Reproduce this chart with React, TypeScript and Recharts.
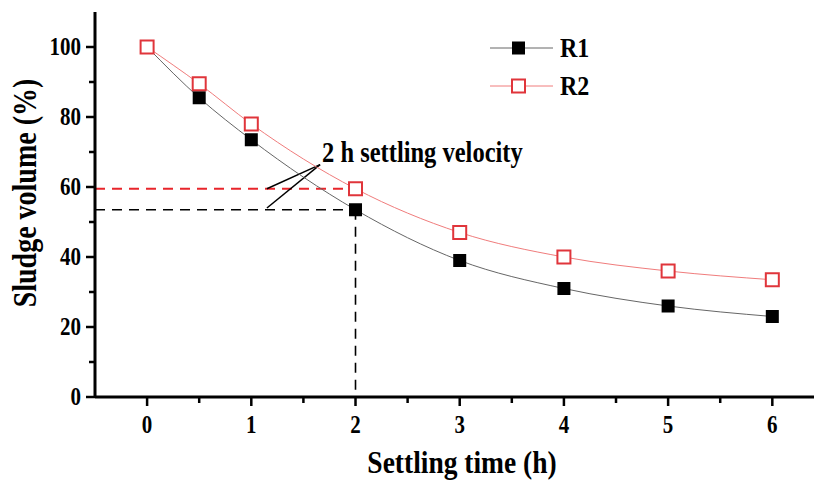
import React from 'react';
import { LineChart, Line, XAxis, YAxis, ReferenceLine, ReferenceDot } from 'recharts';

const times = [0, 0.5, 1, 2, 3, 4, 5, 6];
const r1Values = [100, 85.5, 73.5, 53.5, 39, 31, 26, 23];
const r2Values = [100, 89.5, 78, 59.5, 47, 40, 36, 33.5];
const xTicks = [0, 0.5, 1, 1.5, 2, 2.5, 3, 3.5, 4, 4.5, 5, 5.5, 6];
const yTicks = [0, 10, 20, 30, 40, 50, 60, 70, 80, 90, 100];
const seriesNames = ['R1', 'R2'];

const data = times.map((t, i) => ({ t, R1: r1Values[i], R2: r2Values[i] }));

const FONT = '"Liberation Serif", "Times New Roman", serif';
const R2_MARK = '#e0353b';
const R2_LINE = '#f07c7c';
const R1_LINE = '#666666';
const STRETCH = 1.18;

const SquareDot = (props: any) => {
  const { cx, cy, fill, stroke } = props;
  if (cx == null || cy == null) return null;
  const s = 13;
  return (
    <rect
      x={cx - s / 2}
      y={cy - s / 2}
      width={s}
      height={s}
      fill={fill}
      stroke={stroke}
      strokeWidth={stroke === 'none' ? 0 : 2}
    />
  );
};

const StretchText = ({ x, y, anchor, size, children, rotate }: any) => (
  <text
    transform={`translate(${x},${y})${rotate ? ` rotate(${rotate})` : ''} scale(1,${STRETCH})`}
    x={0}
    y={0}
    textAnchor={anchor}
    dominantBaseline="central"
    fontFamily={FONT}
    fontWeight="bold"
    fontSize={size}
    fill="#000"
  >
    {children}
  </text>
);

const XTick = (props: any) => {
  const { x, y, payload } = props;
  const v = payload.value;
  const major = Number.isInteger(v);
  return (
    <g>
      <line x1={x} x2={x} y1={y} y2={y + (major ? 9 : 6)} stroke="#000" strokeWidth={2.5} />
      {major && (
        <StretchText x={x} y={y + 28} anchor="middle" size={21}>
          {v}
        </StretchText>
      )}
    </g>
  );
};

const YTick = (props: any) => {
  const { x, y, payload } = props;
  const v = payload.value;
  const major = v % 20 === 0;
  return (
    <g>
      <line x1={x} x2={x - (major ? 9 : 6)} y1={y} y2={y} stroke="#000" strokeWidth={2.5} />
      {major && (
        <StretchText x={x - 14} y={y} anchor="end" size={21}>
          {v}
        </StretchText>
      )}
    </g>
  );
};

const legendItems = [
  { name: seriesNames[0], line: R1_LINE, fill: '#000', stroke: 'none' },
  { name: seriesNames[1], line: R2_LINE, fill: '#fff', stroke: R2_MARK },
];

const LegendBox = () => (
  <div style={{ position: 'absolute', left: 490, top: 29, fontFamily: FONT, fontWeight: 'bold', fontSize: 24 }}>
    {legendItems.map((it) => (
      <div key={it.name} style={{ display: 'flex', alignItems: 'center', height: 38 }}>
        <svg width={64} height={20} style={{ marginRight: 6 }}>
          <line x1={0} x2={63} y1={10} y2={10} stroke={it.line} strokeWidth={1} />
          <rect x={22} y={3.5} width={13} height={13} fill={it.fill} stroke={it.stroke} strokeWidth={it.stroke === 'none' ? 0 : 2} />
        </svg>
        <span style={{ display: 'inline-block', transform: `scaleY(${STRETCH})` }}>{it.name}</span>
      </div>
    ))}
  </div>
);

const AnnotationLabel = (props: any) => {
  const { viewBox } = props;
  return (
    <text
      transform={`translate(${viewBox.x + 2},${viewBox.y - 3}) scale(1,${STRETCH})`}
      x={0}
      y={0}
      fontFamily={FONT}
      fontWeight="bold"
      fontSize={24.5}
      fill="#000"
    >
      2 h settling velocity
    </text>
  );
};

export default function App() {
  return (
    <div style={{ position: 'absolute', left: 0, top: 0, width: 814, height: 481, background: '#fff' }}>
      <LineChart width={814} height={481} data={data} margin={{ top: 12, right: 0, bottom: 0, left: 0 }}>
        <XAxis
          dataKey="t"
          type="number"
          domain={[-0.5, 6.4]}
          allowDataOverflow
          ticks={xTicks}
          interval={0}
          tickLine={false}
          tickSize={0}
          tickMargin={0}
          tick={<XTick />}
          height={84}
          axisLine={{ stroke: '#000', strokeWidth: 3 }}
          label={{
            content: (p: any) => (
              <StretchText x={462} y={p.viewBox.y + 65} anchor="middle" size={27.5}>
                Settling time (h)
              </StretchText>
            ),
          }}
        />
        <YAxis
          type="number"
          domain={[0, 110]}
          allowDataOverflow
          ticks={yTicks}
          interval={0}
          tickLine={false}
          tickSize={0}
          tickMargin={0}
          tick={<YTick />}
          width={95}
          axisLine={{ stroke: '#000', strokeWidth: 3 }}
          label={{
            content: () => (
              <StretchText x={25} y={193} anchor="middle" size={28} rotate={-90}>
                Sludge volume (%)
              </StretchText>
            ),
          }}
        />
        <ReferenceLine segment={[{ x: -0.5, y: r2Values[3] }, { x: 2, y: r2Values[3] }]} stroke="#e8252b" strokeWidth={2} strokeDasharray="10 7" ifOverflow="visible" />
        <ReferenceLine segment={[{ x: -0.5, y: r1Values[3] }, { x: 2, y: r1Values[3] }]} stroke="#000" strokeWidth={1.6} strokeDasharray="10 7" ifOverflow="visible" />
        <ReferenceLine segment={[{ x: 2, y: r1Values[3] }, { x: 2, y: 0 }]} stroke="#000" strokeWidth={1.6} strokeDasharray="10 7" ifOverflow="visible" />
        <ReferenceLine segment={[{ x: 1.15, y: 59.5 }, { x: 1.66, y: 66.4 }]} stroke="#000" strokeWidth={1.5} ifOverflow="visible" />
        <ReferenceLine segment={[{ x: 1.15, y: 54.0 }, { x: 1.66, y: 66.4 }]} stroke="#000" strokeWidth={1.5} ifOverflow="visible" />
        <ReferenceDot x={1.66} y={66.4} r={0} fill="none" stroke="none" label={<AnnotationLabel />} ifOverflow="visible" />
        <Line
          dataKey="R1"
          type="monotone"
          stroke={R1_LINE}
          strokeWidth={1}
          dot={<SquareDot fill="#000" stroke="none" />}
          activeDot={false}
          isAnimationActive={false}
        />
        <Line
          dataKey="R2"
          type="monotone"
          stroke={R2_LINE}
          strokeWidth={1}
          dot={<SquareDot fill="#fff" stroke={R2_MARK} />}
          activeDot={false}
          isAnimationActive={false}
        />
      </LineChart>
      <LegendBox />
    </div>
  );
}
